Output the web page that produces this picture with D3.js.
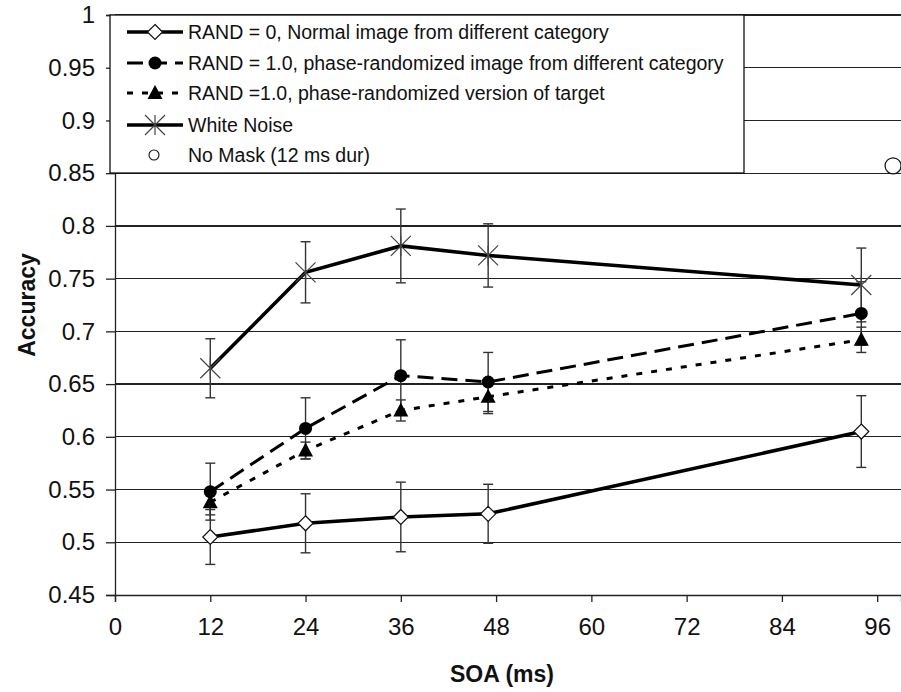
<!DOCTYPE html>
<html>
<head>
<meta charset="utf-8">
<script src="https://cdn.jsdelivr.net/npm/d3@7"></script>
<style>
  html, body { margin: 0; padding: 0; background: #fff; }
  svg { display: block; font-family: "Liberation Sans", Arial, sans-serif; }
</style>
</head>
<body>
<svg id="chart" width="901" height="692"></svg>
<script>
// SOA values (ms) for the masked conditions
const soa = [12, 24, 36, 47, 94];

// Mean accuracy and error-bar half-widths per condition
const rand0 = [0.505, 0.518, 0.524, 0.527, 0.605];
const rand0Err = [0.026, 0.028, 0.033, 0.028, 0.034];

const rand1Diff = [0.548, 0.608, 0.658, 0.652, 0.717];
const rand1DiffErr = [0.027, 0.029, 0.034, 0.028, 0.030];

const rand1Target = [0.538, 0.587, 0.625, 0.638, 0.692];
const rand1TargetErr = [0.012, 0.008, 0.010, 0.016, 0.012];

const whiteNoise = [0.665, 0.756, 0.781, 0.772, 0.744];
const whiteNoiseErr = [0.028, 0.029, 0.035, 0.030, 0.035];

// Unmasked baseline (single point)
const noMaskSoa = [98];
const noMaskAcc = [0.857];

// Axis ticks
const xTicks = [0, 12, 24, 36, 48, 60, 72, 84, 96];
const yTicks = [0.45, 0.5, 0.55, 0.6, 0.65, 0.7, 0.75, 0.8, 0.85, 0.9, 0.95, 1];

const legendLabels = [
  "RAND = 0, Normal image from different category",
  "RAND = 1.0, phase-randomized image from different category",
  "RAND =1.0, phase-randomized version of target",
  "White Noise",
  "No Mask (12 ms dur)"
];

(function () {
const svg = d3.select("#chart");
const plotLeft = 115, plotRight = 901, plotTop = 15, plotBottom = 595;

const x = d3.scaleLinear().domain([0, 99]).range([plotLeft, plotRight]);
const y = d3.scaleLinear().domain([0.45, 1]).range([plotBottom, plotTop]);

// horizontal gridlines
svg.append("g")
  .selectAll("line")
  .data(yTicks.filter(v => v > 0.45))
  .join("line")
  .attr("x1", plotLeft).attr("x2", plotRight)
  .attr("y1", d => y(d)).attr("y2", d => y(d))
  .attr("stroke", "#222").attr("stroke-width", 1.2)
  .attr("shape-rendering", "crispEdges");

// axes
const fmtY = d => String(+d.toFixed(2));
const yAxis = svg.append("g")
  .attr("transform", `translate(${plotLeft},0)`)
  .call(d3.axisLeft(y).tickValues(yTicks).tickSize(9).tickPadding(11).tickFormat(fmtY));
const xAxis = svg.append("g")
  .attr("transform", `translate(0,${plotBottom})`)
  .call(d3.axisBottom(x).tickValues(xTicks).tickSize(7).tickPadding(16).tickFormat(d3.format("d")));
[yAxis, xAxis].forEach(a => {
  a.selectAll("path.domain").attr("stroke", "#222").attr("stroke-width", 1.3);
  a.selectAll(".tick line").attr("stroke", "#222").attr("stroke-width", 1.3);
  a.selectAll(".tick text").attr("font-size", 24).attr("fill", "#111")
    .attr("font-family", "'Liberation Sans', Arial, sans-serif");
});

// axis titles
svg.append("text")
  .attr("transform", `translate(35,${(plotTop + plotBottom) / 2}) rotate(-90)`)
  .attr("text-anchor", "middle")
  .attr("font-size", 23).attr("font-weight", "bold").attr("fill", "#111")
  .text("Accuracy");
svg.append("text")
  .attr("x", 502).attr("y", 682)
  .attr("text-anchor", "middle")
  .attr("font-size", 23).attr("font-weight", "bold").attr("fill", "#111")
  .text("SOA (ms)");

// series definitions
const series = [
  { vals: rand0, err: rand0Err, dash: null, width: 3.6, marker: "diamond" },
  { vals: rand1Diff, err: rand1DiffErr, dash: "16,8", width: 3, marker: "circle" },
  { vals: rand1Target, err: rand1TargetErr, dash: "6,9", width: 3, marker: "triangle" },
  { vals: whiteNoise, err: whiteNoiseErr, dash: null, width: 3.6, marker: "star" }
];

// error bars
const eb = svg.append("g").attr("stroke", "#333").attr("stroke-width", 1.4);
series.forEach(s => {
  s.vals.forEach((v, i) => {
    const cx = x(soa[i]);
    const y0 = y(v - s.err[i]), y1 = y(v + s.err[i]);
    eb.append("line").attr("x1", cx).attr("x2", cx).attr("y1", y0).attr("y2", y1);
    eb.append("line").attr("x1", cx - 5).attr("x2", cx + 5).attr("y1", y0).attr("y2", y0);
    eb.append("line").attr("x1", cx - 5).attr("x2", cx + 5).attr("y1", y1).attr("y2", y1);
  });
});

// lines
const line = d3.line().x((d, i) => x(soa[i])).y(d => y(d));
series.forEach(s => {
  svg.append("path")
    .attr("d", line(s.vals))
    .attr("fill", "none").attr("stroke", "#000")
    .attr("stroke-width", s.width)
    .attr("stroke-dasharray", s.dash);
});

// markers
function drawMarker(g, type, cx, cy) {
  if (type === "diamond") {
    g.append("path")
      .attr("d", `M${cx},${cy - 7.5}L${cx + 7.5},${cy}L${cx},${cy + 7.5}L${cx - 7.5},${cy}Z`)
      .attr("fill", "#fff").attr("stroke", "#111").attr("stroke-width", 1.2);
  } else if (type === "circle") {
    g.append("circle").attr("cx", cx).attr("cy", cy).attr("r", 6.5).attr("fill", "#000");
  } else if (type === "triangle") {
    g.append("path")
      .attr("d", `M${cx},${cy - 8}L${cx + 7.5},${cy + 6}L${cx - 7.5},${cy + 6}Z`)
      .attr("fill", "#000");
  } else if (type === "star") {
    const r = 10;
    g.append("path")
      .attr("d", `M${cx - r},${cy - r}L${cx + r},${cy + r}M${cx - r},${cy + r}L${cx + r},${cy - r}M${cx},${cy - r}L${cx},${cy + r}`)
      .attr("stroke", "#444").attr("stroke-width", 1.2).attr("fill", "none");
  } else if (type === "open") {
    g.append("circle").attr("cx", cx).attr("cy", cy).attr("r", 8)
      .attr("fill", "#fff").attr("stroke", "#111").attr("stroke-width", 1.2);
  }
}
const mk = svg.append("g");
series.forEach(s => {
  s.vals.forEach((v, i) => drawMarker(mk, s.marker, x(soa[i]), y(v)));
});
noMaskAcc.forEach((v, i) => drawMarker(mk, "open", x(noMaskSoa[i]), y(v)));

// legend
const lg = svg.append("g");
lg.append("rect")
  .attr("x", 110).attr("y", 15).attr("width", 634).attr("height", 158)
  .attr("fill", "#fff").attr("stroke", "#111").attr("stroke-width", 1.3);
const rowY = [32, 63, 93, 125, 155];
const legendSeries = series.concat([{ marker: "open", dash: null, width: 0 }]);
legendSeries.forEach((s, i) => {
  const ry = rowY[i];
  if (s.width > 0) {
    lg.append("line")
      .attr("x1", 127).attr("x2", 183).attr("y1", ry).attr("y2", ry)
      .attr("stroke", "#000").attr("stroke-width", s.width)
      .attr("stroke-dasharray", s.dash);
  }
  if (s.marker === "open") {
    lg.append("circle").attr("cx", 154).attr("cy", ry).attr("r", 5)
      .attr("fill", "#fff").attr("stroke", "#111").attr("stroke-width", 1.1);
  } else {
    drawMarker(lg, s.marker, 155, ry);
  }
  lg.append("text")
    .attr("x", 188).attr("y", ry + 7)
    .attr("font-size", 19.5).attr("fill", "#111")
    .text(legendLabels[i]);
});
})();
</script>
</body>
</html>
